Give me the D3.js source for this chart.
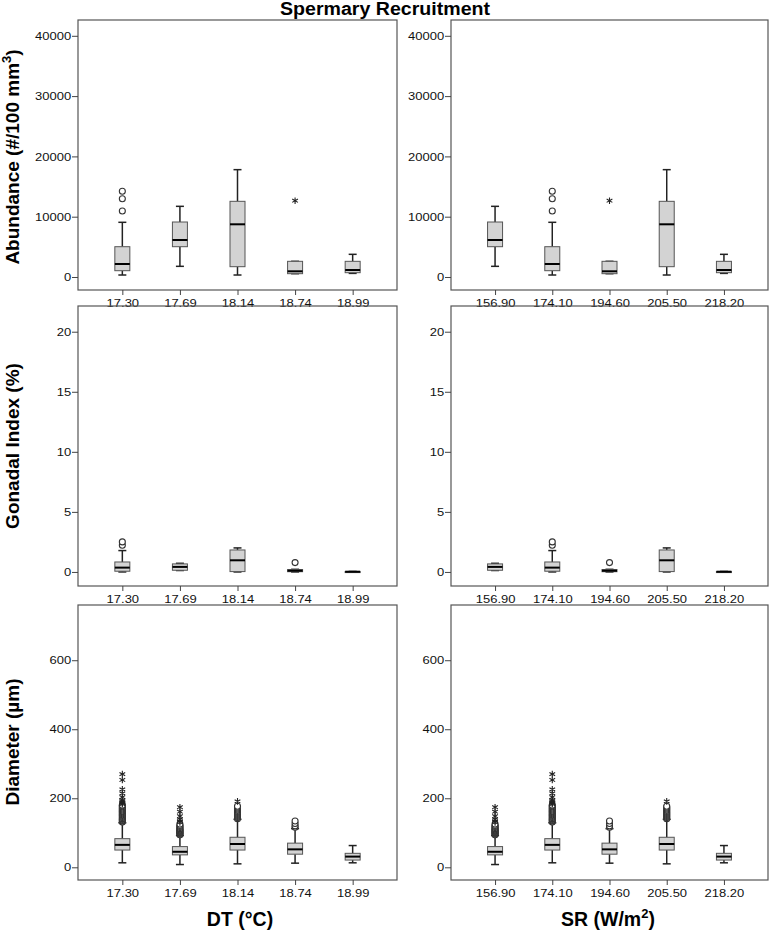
<!DOCTYPE html>
<html><head><meta charset="utf-8">
<script src="https://cdn.jsdelivr.net/npm/d3@7"></script>
<style>
body{margin:0;background:#fff;}
text{font-family:"Liberation Sans",Arial,sans-serif;}
</style></head>
<body><svg id="c" width="770" height="930"></svg>
<script>
// ---- data (groups in DT order) ----
const dtLabels = ["17.30","17.69","18.14","18.74","18.99"];
const srLabels = ["174.10","156.90","205.50","194.60","218.20"]; // SR of the same groups
const srOrder  = ["156.90","174.10","194.60","205.50","218.20"];

const abundanceTicks = [0,10000,20000,30000,40000];
const gonadTicks = [0,5,10,15,20];
const diameterTicks = [0,200,400,600];

// [min, q1, median, q3, max]
const abundanceStats = [[330,1045,2156,5025,9070],[1770,5025,6135,9120,11720],[330,1710,8740,12550,17800],[550,550,945,2600,2600],[600,715,1160,2600,3760]];
const abundanceMild = [[10945,12985,14210],[],[],[],[]];
const abundanceExtreme = [[],[],[],[12650],[]];

const gonadStats = [[0,0.06,0.36,0.83,1.78],[0.12,0.14,0.42,0.67,0.72],[0,0.03,0.97,1.83,2.0],[0,0.02,0.1,0.2,0.22],[0,0.01,0.02,0.03,0.04]];
const gonadMild = [[2.22,2.5],[],[],[0.78],[]];
const gonadExtreme = [[],[],[],[],[]];

const diameterStats = [[13,50,65,83,129],[8,36,45,60,92],[10,50,67.5,87,139],[12,38,52,70,112],[13,21,31,40.5,63]];
const diameterMild = [
  [131,134,136,139,141,144,147,150,152,155,158,161,163,166,169,172,175,178,180],
  [94,96,98,100,102,104,106,108,110,112,115,118,121,125],
  [141,144,147,150,153,156,159,162,165,168,171,174,177],
  [116,120,127,134],
  []];
const diameterExtreme = [
  [183,186,189,192,195,203,214,226,253,270],
  [130,134,139,148,161,174],
  [191],
  [],
  []];

// ---- layout ----
const svg = d3.select("#c");
const cols = [{x0:78,x1:397,labels:dtLabels,order:dtLabels},{x0:451,x1:768,labels:srLabels,order:srOrder}];
const rows = [
  {y0:20,y1:290,domain:[-2156,42620],ticks:abundanceTicks,stats:abundanceStats,mild:abundanceMild,ext:abundanceExtreme},
  {y0:306,y1:586,domain:[-1.17,22.14],ticks:gonadTicks,stats:gonadStats,mild:gonadMild,ext:gonadExtreme},
  {y0:605,y1:880,domain:[-36.8,760],ticks:diameterTicks,stats:diameterStats,mild:diameterMild,ext:diameterExtreme}
];
const frameCol = "#555";
const boxW = 15, capW = 8;
const stretch = "scale(1.13,1)";

rows.forEach(r=>{
  cols.forEach(c=>{
    const g = svg.append("g");
    const x = d3.scalePoint().domain(c.order).range([c.x0,c.x1]).padding(0.77);
    const y = d3.scaleLinear().domain(r.domain).range([r.y1,r.y0]);
    // frame
    g.append("rect").attr("x",c.x0).attr("y",r.y0).attr("width",c.x1-c.x0).attr("height",r.y1-r.y0)
      .attr("fill","none").attr("stroke",frameCol).attr("stroke-width",1.2);
    // y axis
    const ya = g.append("g").attr("transform",`translate(${c.x0},0)`)
      .call(d3.axisLeft(y).tickValues(r.ticks).tickSize(6).tickPadding(0).tickFormat(d3.format("d")));
    ya.select(".domain").remove();
    ya.selectAll("line").attr("stroke","#444");
    ya.selectAll("text").attr("font-size",11.5).attr("fill","#111").attr("x",-6).attr("transform",stretch);
    // x axis
    const xa = g.append("g").attr("transform",`translate(0,${r.y1})`)
      .call(d3.axisBottom(x).tickSize(5).tickPadding(4));
    xa.select(".domain").remove();
    xa.selectAll("line").attr("stroke","#444");
    xa.selectAll("text").attr("font-size",11.5).attr("fill","#111").attr("transform",stretch);
    // boxes
    c.labels.forEach((lab,i)=>{
      const s = r.stats[i], cx = x(lab);
      const bg = g.append("g");
      // whiskers
      bg.append("line").attr("x1",cx).attr("x2",cx).attr("y1",y(s[3])).attr("y2",y(s[4])).attr("stroke","#222").attr("stroke-width",1.5);
      bg.append("line").attr("x1",cx).attr("x2",cx).attr("y1",y(s[1])).attr("y2",y(s[0])).attr("stroke","#222").attr("stroke-width",1.5);
      bg.append("line").attr("x1",cx-capW/2).attr("x2",cx+capW/2).attr("y1",y(s[4])).attr("y2",y(s[4])).attr("stroke","#222").attr("stroke-width",1.5);
      bg.append("line").attr("x1",cx-capW/2).attr("x2",cx+capW/2).attr("y1",y(s[0])).attr("y2",y(s[0])).attr("stroke","#222").attr("stroke-width",1.5);
      // box
      bg.append("rect").attr("x",cx-boxW/2).attr("width",boxW)
        .attr("y",y(s[3])).attr("height",Math.max(1,y(s[1])-y(s[3])))
        .attr("fill","#d3d3d3").attr("stroke","#555").attr("stroke-width",1);
      // median
      bg.append("line").attr("x1",cx-boxW/2).attr("x2",cx+boxW/2).attr("y1",y(s[2])).attr("y2",y(s[2])).attr("stroke","#000").attr("stroke-width",2);
      // mild outliers
      r.mild[i].forEach(v=>{
        bg.append("circle").attr("cx",cx).attr("cy",y(v)).attr("r",3).attr("fill","#fff").attr("stroke","#333").attr("stroke-width",1.1);
      });
      // extreme outliers
      r.ext[i].forEach(v=>{
        bg.append("path").attr("transform",`translate(${cx},${y(v)})`)
          .attr("d",d3.symbol(d3.symbolAsterisk,30)()).attr("fill","none").attr("stroke","#222").attr("stroke-width",1.1);
      });
    });
  });
});

// titles
svg.append("text").attr("transform","translate(385,15) scale(1.12,1)").attr("text-anchor","middle").attr("font-size",17.5).attr("font-weight","bold").text("Spermary Recruitment");

function yTitle(cy, parts){
  const t = svg.append("text").attr("transform",`translate(19,${cy}) rotate(-90)`).attr("text-anchor","middle")
    .attr("font-size",19).attr("font-weight","bold");
  parts.forEach(p=>{
    if(p.sup){ t.append("tspan").attr("dy",-8).attr("font-size",13).text(p.t); }
    else if(p.after){ t.append("tspan").attr("dy",8).text(p.t); }
    else t.append("tspan").text(p.t);
  });
}
yTitle(157,[{t:"Abundance (#/100 mm"},{t:"3",sup:true},{t:")",after:true}]);
yTitle(446,[{t:"Gonadal Index (%)"}]);
yTitle(742,[{t:"Diameter (µm)"}]);

svg.append("text").attr("x",240).attr("y",926).attr("text-anchor","middle").attr("font-size",19.5).attr("font-weight","bold").text("DT (°C)");
const xt2 = svg.append("text").attr("x",608).attr("y",926).attr("text-anchor","middle").attr("font-size",19.5).attr("font-weight","bold");
xt2.append("tspan").text("SR (W/m");
xt2.append("tspan").attr("dy",-8).attr("font-size",13).text("2");
xt2.append("tspan").attr("dy",8).text(")");
</script></body></html>
